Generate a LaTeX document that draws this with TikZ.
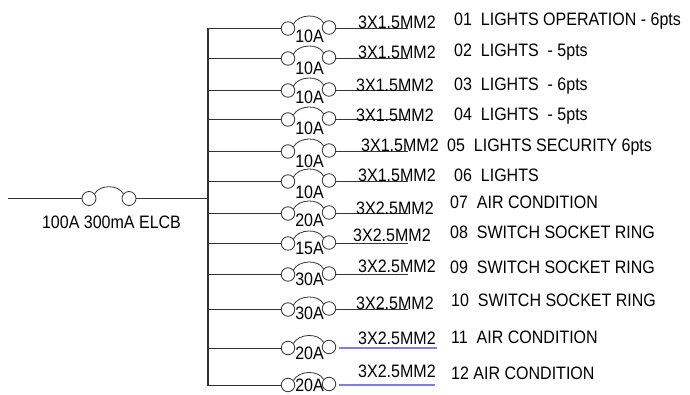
\documentclass[tikz,border=0pt]{standalone}
\usepackage{fontspec}
\setmainfont[FakeStretch=0.89]{Liberation Sans}
\usepackage{tikz}
\definecolor{wiregray}{gray}{0.2}
\definecolor{wireblue}{RGB}{125,125,240}
\tikzset{
feedwire/.style={wiregray,line width=1pt},
bluewire/.style={wireblue,line width=1.1pt,shorten <=3pt},
cbcontact/.style={circle,draw=wiregray,line width=0.8pt,minimum size=13.5pt,inner sep=0pt},
cbarc/.style={wiregray,line width=0.8pt,out=62,in=118,looseness=0.95},
lbl/.style={inner sep=0pt,text=black,font=\fontsize{18}{20}\selectfont}
}

\begin{document}
\begin{tikzpicture}[x=1pt,y=-1pt]
\useasboundingbox (0,0) rectangle (690,395);

% The incoming ELCB
\coordinate (feed) at (8,198.5);
\coordinate (busin) at (208,198.5);
\node[cbcontact,minimum size=14pt] (elcbl) at (89,198.5) {};
\node[cbcontact,minimum size=14pt] (elcbr) at (129,198.5) {};
\draw[feedwire] (feed) -- (elcbl.west);
\draw[feedwire] (elcbr.east) -- (busin);
\draw[cbarc] (elcbl.40) to (elcbr.140);
\node[lbl,anchor=base] (elcblabel) at (111.5,228.5) {100A 300mA ELCB};

% The outgoing ways
\foreach \n/\y/\amp/\ampy/\cx/\cy/\cable/\dx/\dy/\way/\wstyle/\wend in {
1/28.5/10A/42.5/358/28.5/3X1.5MM2/454/25.5/01~~LIGHTS OPERATION - 6pts/feedwire/408,
2/58.5/10A/74.5/358/58.5/3X1.5MM2/454/56.5/02~~LIGHTS~~- 5pts/feedwire/408,
3/90.5/10A/103.5/356/91.5/3X1.5MM2/454/90.5/03~~LIGHTS~~- 6pts/feedwire/408,
4/119.5/10A/134.5/356/121.5/3X1.5MM2/454/120.5/04~~LIGHTS~~- 5pts/feedwire/408,
5/151.5/10A/167.5/361/151.5/3X1.5MM2/447/151.5/05~~LIGHTS SECURITY 6pts/feedwire/408,
6/181.5/10A/198.5/358/181.5/3X1.5MM2/454/181.5/06~~LIGHTS/feedwire/408,
7/213.5/20A/226.5/356/214.5/3X2.5MM2/450/208.5/07~~AIR CONDITION/feedwire/408,
8/243.5/15A/254.5/353/241.5/3X2.5MM2/450/238.5/08~~SWITCH SOCKET RING/feedwire/408,
9/274.5/30A/285.5/358/272.5/3X2.5MM2/450/273.5/09~~SWITCH SOCKET RING/feedwire/408,
10/309.5/30A/319.5/356/309.5/3X2.5MM2/451/306.5/10~~SWITCH SOCKET RING/feedwire/408,
11/348/20A/359.5/358/344.5/3X2.5MM2/451/343.5/11~~AIR CONDITION/bluewire/437,
12/385/20A/391/358/377.5/3X2.5MM2/451/379.5/12 AIR CONDITION/bluewire/435}
{
\coordinate (bus\n) at (208,\y);
\coordinate (end\n) at (\wend,\y);
\node[cbcontact] (cbl\n) at (288,\y) {};
\node[cbcontact] (cbr\n) at (329,\y-1) {};
\draw[feedwire] (bus\n) -- (cbl\n.west);
\draw[\wstyle] (cbr\n.east |- end\n) -- (end\n);
\draw[cbarc] (cbl\n.40) to (cbr\n.140);
\node[lbl,anchor=base] (amp\n) at (309.5,\ampy) {\amp};
\node[lbl,anchor=base west] (cable\n) at (\cx,\cy) {\cable};
\node[lbl,anchor=base west] (way\n) at (\dx,\dy) {\way};
}

% The busbar
\draw[feedwire,line width=1.5pt,line cap=rect] (bus1) -- (bus12);
\end{tikzpicture}
\end{document}
